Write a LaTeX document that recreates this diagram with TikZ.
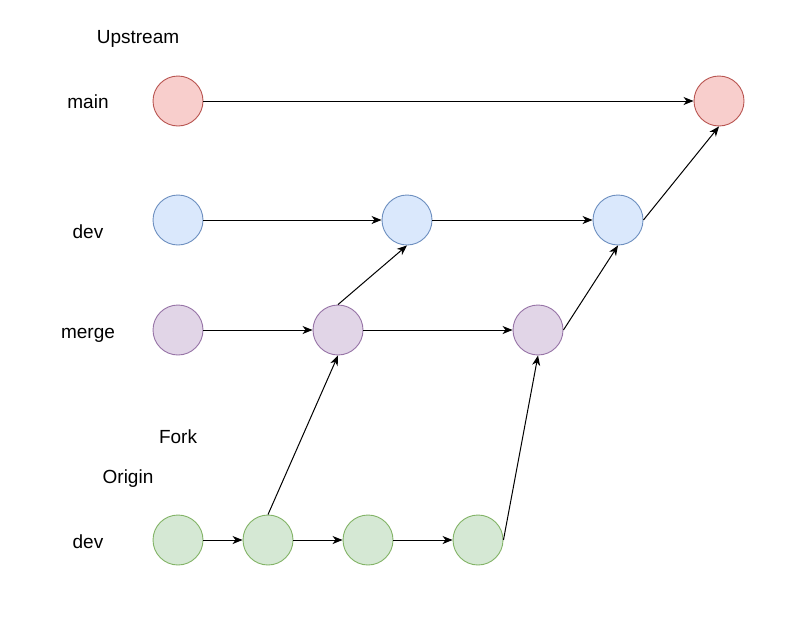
\documentclass[tikz,border=0pt]{standalone}
\usepackage{fontspec}
\setmainfont{Liberation Sans}
\usetikzlibrary{arrows.meta}
\definecolor{redF}{HTML}{F8CECC}\definecolor{redD}{HTML}{B85450}
\definecolor{bluF}{HTML}{DAE8FC}\definecolor{bluD}{HTML}{6C8EBF}
\definecolor{purF}{HTML}{E1D5E7}\definecolor{purD}{HTML}{9673A6}
\definecolor{grnF}{HTML}{D5E8D4}\definecolor{grnD}{HTML}{82B366}
\begin{document}
\begin{tikzpicture}[x=1pt,y=-1pt,
  commit/.style={circle,minimum size=50pt,inner sep=0pt,line width=0.9pt},
  rednode/.style={commit,fill=redF,draw=redD},
  bluenode/.style={commit,fill=bluF,draw=bluD},
  purnode/.style={commit,fill=purF,draw=purD},
  grnnode/.style={commit,fill=grnF,draw=grnD},
  lbl/.style={anchor=base,inner sep=0pt,font=\fontsize{19pt}{22pt}\selectfont},
  conn/.style={line width=1pt,-{Stealth[length=10pt,width=8pt,inset=3pt]}}]
\useasboundingbox (0,0) rectangle (799,640);
% labels
\node[lbl] (tup) at (138,43) {Upstream};
\node[lbl] (tmain) at (88,108) {main};
\node[lbl] (tdev) at (88,238) {dev};
\node[lbl] (tmerge) at (88,338) {merge};
\node[lbl] (tfork) at (178,443) {Fork};
\node[lbl] (torig) at (128,483) {Origin};
\node[lbl] (tdev2) at (88,548) {dev};
% nodes
\node[rednode] (m1) at (178,101) {};
\node[rednode] (m2) at (719,101) {};
\node[bluenode] (d1) at (178,220) {};
\node[bluenode] (d2) at (407,220) {};
\node[bluenode] (d3) at (618,220) {};
\node[purnode] (g1) at (178,330) {};
\node[purnode] (g2) at (338,330) {};
\node[purnode] (g3) at (538,330) {};
\node[grnnode] (o1) at (178,540) {};
\node[grnnode] (o2) at (268,540) {};
\node[grnnode] (o3) at (368,540) {};
\node[grnnode] (o4) at (478,540) {};
% connectors
\draw[conn] (m1.east) -- (m2.west);
\draw[conn] (d1.east) -- (d2.west);
\draw[conn] (d2.east) -- (d3.west);
\draw[conn] (d3.east) -- (m2.south);
\draw[conn] (g1.east) -- (g2.west);
\draw[conn] (g2.east) -- (g3.west);
\draw[conn] (g2.north) -- (d2.south);
\draw[conn] (g3.east) -- (d3.south);
\draw[conn] (o1.east) -- (o2.west);
\draw[conn] (o2.east) -- (o3.west);
\draw[conn] (o3.east) -- (o4.west);
\draw[conn] (o2.north) -- (g2.south);
\draw[conn] (o4.east) -- (g3.south);
\end{tikzpicture}
\end{document}
